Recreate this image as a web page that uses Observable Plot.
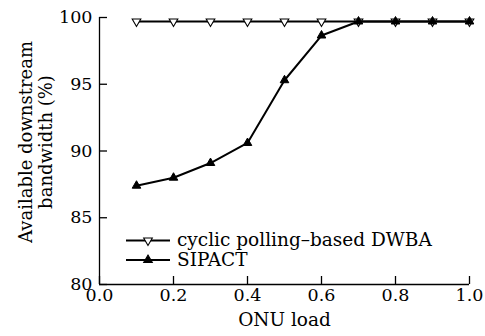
<!DOCTYPE html>
<html><head><meta charset="utf-8">
<script src="https://cdn.jsdelivr.net/npm/d3@7"></script>
<script src="https://cdn.jsdelivr.net/npm/@observablehq/plot@0.6"></script>
<style>
body{margin:0;background:#fff}
#wrap{position:relative;width:485px;height:336px;background:#fff}
#legend{position:absolute;left:0;top:0}
</style>
</head><body><div id="wrap"></div>
<script>
const load = [0.1, 0.2, 0.3, 0.4, 0.5, 0.6, 0.7, 0.8, 0.9, 1.0];
const dwba = [99.7, 99.7, 99.7, 99.7, 99.7, 99.7, 99.7, 99.7, 99.7, 99.7];
const sipact = [87.4, 88.0, 89.1, 90.6, 95.3, 98.65, 99.7, 99.7, 99.7, 99.7];
const seriesNames = ["cyclic polling–based DWBA", "SIPACT"];
const xTicks = [0, 0.2, 0.4, 0.6, 0.8, 1.0];
const yTicks = [80, 85, 90, 95, 100];
const xLabel = "ONU load";
const yLabel = "Available downstream\nbandwidth (%)";

const font = "'DejaVu Serif', serif";
const rowsA = load.map((x, i) => ({x, y: dwba[i]}));
const rowsB = load.map((x, i) => ({x, y: sipact[i]}));

const chart = Plot.plot({
  width: 485, height: 336,
  marginLeft: 99, marginRight: 16, marginTop: 17, marginBottom: 52,
  style: {fontFamily: font, fontSize: "17px", color: "#000", background: "#fff"},
  x: {domain: [0, 1]},
  y: {domain: [80, 100]},
  marks: [
    Plot.ruleX([0], {stroke: "#000", strokeWidth: 1.3}),
    Plot.ruleY([80], {stroke: "#000", strokeWidth: 1.3}),
    Plot.axisX(xTicks, {tickSize: -8, tickPadding: 12, tickFormat: d3.format(".1f"), label: null, strokeWidth: 1.3, fontSize: 17.5}),
    Plot.axisY(yTicks, {tickSize: -8, tickPadding: 15, label: null, strokeWidth: 1.3, fontSize: 17.5}),
    Plot.text([xLabel], {frameAnchor: "bottom", dy: 41, fontSize: 18.5}),
    Plot.text([yLabel], {frameAnchor: "left", textAnchor: "middle", rotate: -90, dx: -64, dy: -9, fontSize: 18, lineHeight: 1.1}),
    Plot.line(rowsA, {x: "x", y: "y", stroke: "#000", strokeWidth: 2}),
    Plot.dot(rowsA, {x: "x", y: "y", symbol: "triangle", rotate: 180, r: 3.2, fill: "#fff", stroke: "#000", strokeWidth: 1.1}),
    Plot.line(rowsB, {x: "x", y: "y", stroke: "#000", strokeWidth: 2}),
    Plot.dot(rowsB, {x: "x", y: "y", symbol: "triangle", r: 3.2, fill: "#000", stroke: "#000", strokeWidth: 1})
  ]
});
const wrap = document.getElementById("wrap");
wrap.appendChild(chart);

// legend overlay
const lg = d3.create("svg").attr("id", "legend").attr("width", 485).attr("height", 336)
  .style("font-family", font).style("font-size", "18.5px");
const rowsY = [240.5, 260];
const syms = [
  {type: d3.symbolTriangle, rot: 180, fill: "#fff"},
  {type: d3.symbolTriangle, rot: 0, fill: "#000"}
];
seriesNames.forEach((name, i) => {
  const y = rowsY[i];
  lg.append("line").attr("x1", 126).attr("x2", 170).attr("y1", y).attr("y2", y)
    .attr("stroke", "#000").attr("stroke-width", 2);
  lg.append("path").attr("d", d3.symbol(syms[i].type, Math.PI * 3.2 * 3.2)())
    .attr("transform", `translate(148,${y}) rotate(${syms[i].rot})`)
    .attr("fill", syms[i].fill).attr("stroke", "#000").attr("stroke-width", 1.1);
  lg.append("text").attr("x", 177).attr("y", y).attr("dy", "0.32em").attr("fill", "#000").text(name);
});
wrap.appendChild(lg.node());
</script>
</body></html>
